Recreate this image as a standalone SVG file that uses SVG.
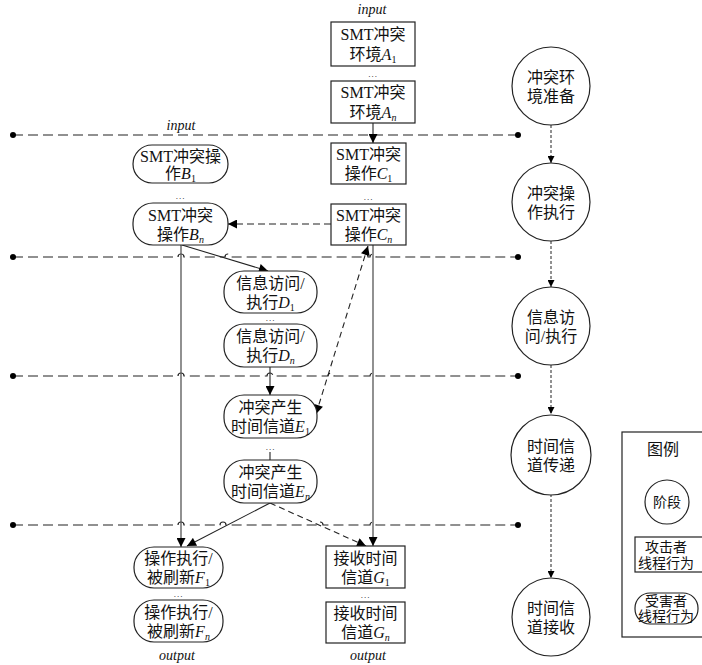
<svg xmlns="http://www.w3.org/2000/svg" width="702" height="665" viewBox="0 0 702 665">
<defs>
<style>
text{font-family:"Liberation Serif","Noto Sans CJK SC",serif;font-size:16px;fill:#111;text-anchor:middle}
.lbl{font-style:italic;font-size:14px}
.it{font-style:italic}
.sub{font-size:10px}
.dots{font-size:9px;letter-spacing:1px}
.box{fill:#fff;stroke:#222;stroke-width:1.2}
.ln{fill:none;stroke:#222;stroke-width:1.1}
.vl{fill:none;stroke:#555;stroke-width:1.3}
.dl{fill:none;stroke:#222;stroke-width:1.1;stroke-dasharray:7 4}
.sep{fill:none;stroke:#222;stroke-width:1.2;stroke-dasharray:10 5}
.dot{fill:none;stroke:#222;stroke-width:1;stroke-dasharray:3 2}
.lg{font-size:14px}
</style>
<marker id="ah" viewBox="0 0 10 10" refX="10" refY="5" markerWidth="11" markerHeight="9" markerUnits="userSpaceOnUse" orient="auto-start-reverse"><path d="M0,0 L10,5 L0,10 z" fill="#000"/></marker>
<marker id="sh" viewBox="0 0 10 10" refX="10" refY="5" markerWidth="8" markerHeight="7" markerUnits="userSpaceOnUse" orient="auto"><path d="M0,0 L10,5 L0,10 z" fill="#000"/></marker>
</defs>
<rect width="702" height="665" fill="#fff"/>

<g id="separators">
<path class="sep" d="M13,135 H518"/>
<path class="sep" d="M13,257 H178 a3,3 0 0 1 6,0 H225 a3,3 0 0 1 6,0 H362 a3,3 0 0 1 6,0 H370 a3,3 0 0 1 6,0 H518"/>
<path class="sep" d="M13,376 H178 a3,3 0 0 1 6,0 H267 a3,3 0 0 1 6,0 H328 a3,3 0 0 1 6,0 H370 a3,3 0 0 1 6,0 H518"/>
<path class="sep" d="M13,525 H178 a3,3 0 0 1 6,0 H220 a3,3 0 0 1 6,0 H317 a3,3 0 0 1 6,0 H370 a3,3 0 0 1 6,0 H518"/>
<g fill="#000">
<circle cx="13" cy="135" r="3"/><circle cx="518" cy="135" r="3"/>
<circle cx="13" cy="257" r="3"/><circle cx="518" cy="257" r="3"/>
<circle cx="13" cy="376" r="3"/><circle cx="518" cy="376" r="3"/>
<circle cx="13" cy="525" r="3"/><circle cx="518" cy="525" r="3"/>
</g>
</g>

<g id="connectors">
<path class="ln" d="M373,123 V143" marker-end="url(#ah)"/>
<path class="dl" d="M331,224 H228" marker-end="url(#ah)"/>
<path class="ln" d="M182,245 L268,271" marker-end="url(#ah)"/>
<path class="vl" d="M181,245 V547" marker-end="url(#ah)"/>
<path class="ln" d="M270,367 V395" marker-end="url(#ah)"/>
<path class="ln" d="M270,452 V460"/>
<path class="dl" d="M316,414 L368,246" marker-start="url(#ah)" marker-end="url(#ah)" style="stroke-dasharray:6 4"/>
<path class="vl" d="M373,245 V546" marker-end="url(#ah)"/>
<path class="ln" d="M270,503 L187,546" marker-end="url(#ah)"/>
<path class="dl" d="M270,503 L366,546" marker-end="url(#ah)" style="stroke-dasharray:6 4"/>
<path class="dot" d="M551,125 V163" marker-end="url(#sh)"/>
<path class="dot" d="M551,241 V287" marker-end="url(#sh)"/>
<path class="dot" d="M551,365 V414" marker-end="url(#sh)"/>
<path class="dot" d="M551,494 V578" marker-end="url(#sh)"/>
</g>

<text class="lbl" x="372" y="14">input</text>
<text class="lbl" x="181" y="130">input</text>
<text class="lbl" x="177" y="660">output</text>
<text class="lbl" x="368" y="660">output</text>

<g id="A1"><rect class="box" x="331" y="22" width="84" height="44"/>
<text x="373" y="40">SMT冲突</text><text x="373" y="60">环境<tspan class="it">A</tspan><tspan class="sub" dy="3">1</tspan></text></g>
<text class="dots" x="373" y="77">...</text>
<g id="An"><rect class="box" x="331" y="81" width="84" height="42"/>
<text x="373" y="98">SMT冲突</text><text x="373" y="118">环境<tspan class="it">A</tspan><tspan class="sub it" dy="3">n</tspan></text></g>

<g id="C1"><rect class="box" x="331" y="143" width="75" height="41"/>
<text x="368.5" y="160">SMT冲突</text><text x="368.5" y="179">操作<tspan class="it">C</tspan><tspan class="sub" dy="3">1</tspan></text></g>
<text class="dots" x="368.5" y="200">...</text>
<g id="Cn"><rect class="box" x="331" y="204" width="75" height="41"/>
<text x="368.5" y="221">SMT冲突</text><text x="368.5" y="240">操作<tspan class="it">C</tspan><tspan class="sub it" dy="3">n</tspan></text></g>

<g id="B1"><rect class="box" x="133" y="145" width="95" height="38" rx="19"/>
<text x="180.5" y="162">SMT冲突操</text><text x="180.5" y="179">作<tspan class="it">B</tspan><tspan class="sub" dy="3">1</tspan></text></g>
<text class="dots" x="180.5" y="199">...</text>
<g id="Bn"><rect class="box" x="133" y="203" width="95" height="42" rx="20"/>
<text x="180.5" y="221">SMT冲突</text><text x="180.5" y="240">操作<tspan class="it">B</tspan><tspan class="sub it" dy="3">n</tspan></text></g>

<g id="D1"><rect class="box" x="224" y="271" width="93" height="42" rx="20"/>
<text x="270.5" y="289">信息访问/</text><text x="270.5" y="308">执行<tspan class="it">D</tspan><tspan class="sub" dy="3">1</tspan></text></g>
<text class="dots" x="270.5" y="321">...</text>
<g id="Dn"><rect class="box" x="224" y="324" width="93" height="43" rx="20"/>
<text x="270.5" y="342">信息访问/</text><text x="270.5" y="361">执行<tspan class="it">D</tspan><tspan class="sub it" dy="3">n</tspan></text></g>

<g id="E1"><rect class="box" x="224" y="395" width="93" height="43" rx="20"/>
<text x="270.5" y="413">冲突产生</text><text x="270.5" y="432">时间信道<tspan class="it">E</tspan><tspan class="sub" dy="3">1</tspan></text></g>
<text class="dots" x="270.5" y="450">...</text>
<g id="En"><rect class="box" x="224" y="460" width="93" height="43" rx="20"/>
<text x="270.5" y="478">冲突产生</text><text x="270.5" y="497">时间信道<tspan class="it">E</tspan><tspan class="sub it" dy="3">n</tspan></text></g>

<g id="F1"><rect class="box" x="134" y="547" width="89" height="41" rx="20"/>
<text x="178.5" y="564">操作执行/</text><text x="178.5" y="583">被刷新<tspan class="it">F</tspan><tspan class="sub" dy="3">1</tspan></text></g>
<text class="dots" x="178.5" y="597">...</text>
<g id="Fn"><rect class="box" x="134" y="600" width="89" height="42" rx="20"/>
<text x="178.5" y="618">操作执行/</text><text x="178.5" y="637">被刷新<tspan class="it">F</tspan><tspan class="sub it" dy="3">n</tspan></text></g>

<g id="G1"><rect class="box" x="326" y="546" width="79" height="42"/>
<text x="365.5" y="564">接收时间</text><text x="365.5" y="583">信道<tspan class="it">G</tspan><tspan class="sub" dy="3">1</tspan></text></g>
<text class="dots" x="365.5" y="598">...</text>
<g id="Gn"><rect class="box" x="326" y="602" width="79" height="41"/>
<text x="365.5" y="619">接收时间</text><text x="365.5" y="638">信道<tspan class="it">G</tspan><tspan class="sub it" dy="3">n</tspan></text></g>

<g id="P1"><circle class="box" cx="551" cy="86" r="39"/><text x="551" y="83">冲突环</text><text x="551" y="102">境准备</text></g>
<g id="P2"><circle class="box" cx="551" cy="202" r="39"/><text x="551" y="199">冲突操</text><text x="551" y="218">作执行</text></g>
<g id="P3"><circle class="box" cx="551" cy="326" r="39"/><text x="551" y="323">信息访</text><text x="551" y="342">问/执行</text></g>
<g id="P4"><circle class="box" cx="551" cy="455" r="40"/><text x="551" y="452">时间信</text><text x="551" y="471">道传递</text></g>
<g id="P5"><circle class="box" cx="551" cy="617" r="39"/><text x="551" y="614">时间信</text><text x="551" y="633">道接收</text></g>

<g id="legend">
<rect class="box" x="622" y="432" width="90" height="205"/>
<text x="663" y="455">图例</text>
<circle class="box" cx="667" cy="502" r="22"/><text class="lg" x="667" y="507">阶段</text>
<rect class="box" x="635" y="537" width="75" height="35"/>
<text class="lg" x="666" y="552">攻击者</text><text class="lg" x="666" y="568">线程行为</text>
<rect class="box" x="635" y="593" width="63" height="31" rx="15"/>
<text class="lg" x="666" y="606">受害者</text><text class="lg" x="666" y="621">线程行为</text>
</g>
</svg>
